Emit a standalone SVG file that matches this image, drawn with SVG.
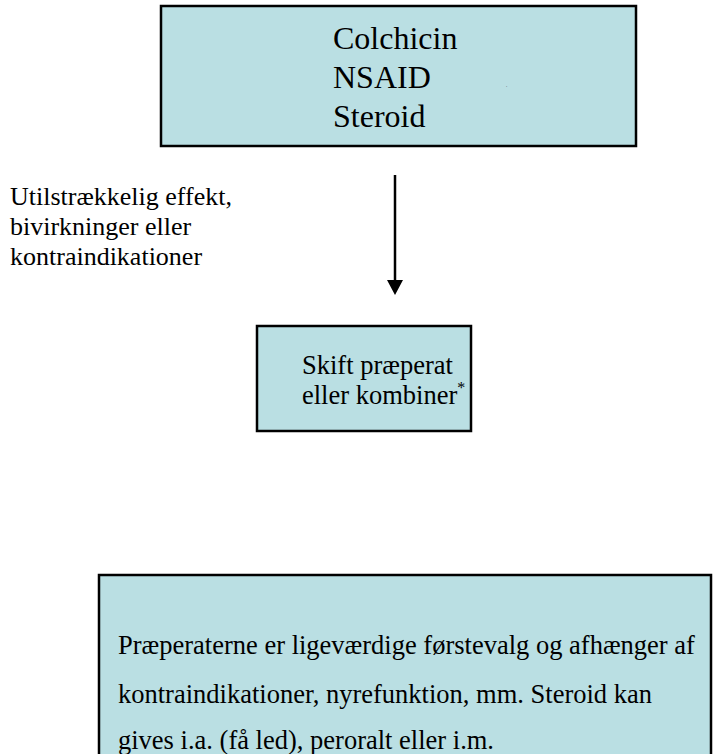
<svg xmlns="http://www.w3.org/2000/svg" width="713" height="754" viewBox="0 0 713 754">
<style>
.box{fill:#badfe3;stroke:#000;stroke-width:2.5}
.t{font-family:"Liberation Serif","Times New Roman",serif;fill:#000}
.big{font-size:32px}
.mid{font-size:26.5px}
.lab{font-size:26px}
</style>
<rect width="713" height="754" fill="#fff"/>
<g id="node-drugs">
<rect class="box" x="161" y="6" width="475" height="140"/>
<text class="t big" x="333" y="49">Colchicin</text>
<text class="t big" x="333" y="88">NSAID</text>
<text class="t big" x="333" y="127">Steroid</text>
<text class="t" x="506" y="87" font-size="5">.</text>
</g>
<g id="connectors">
<line x1="395" y1="175" x2="395" y2="281" stroke="#000" stroke-width="2.5"/>
<path d="M387,280 L403,280 L395,295 Z" fill="#000"/>
</g>
<g id="label-edge">
<text class="t lab" x="10" y="205">Utilstrækkelig effekt,</text>
<text class="t lab" x="10" y="235">bivirkninger eller</text>
<text class="t lab" x="10" y="265">kontraindikationer</text>
</g>
<g id="node-switch">
<rect class="box" x="257" y="326" width="214" height="105"/>
<text class="t mid" x="302" y="374">Skift præperat</text>
<text class="t mid" x="302" y="404">eller kombiner<tspan font-size="16" dy="-11">*</tspan></text>
</g>
<g id="node-note">
<rect class="box" x="99" y="575" width="612" height="190"/>
<text class="t mid" x="118" y="654">Præperaterne er ligeværdige førstevalg og afhænger af</text>
<text class="t mid" x="118" y="703">kontraindikationer, nyrefunktion, mm. Steroid kan</text>
<text class="t mid" x="118" y="749">gives i.a. (få led), peroralt eller i.m.</text>
</g>
</svg>
